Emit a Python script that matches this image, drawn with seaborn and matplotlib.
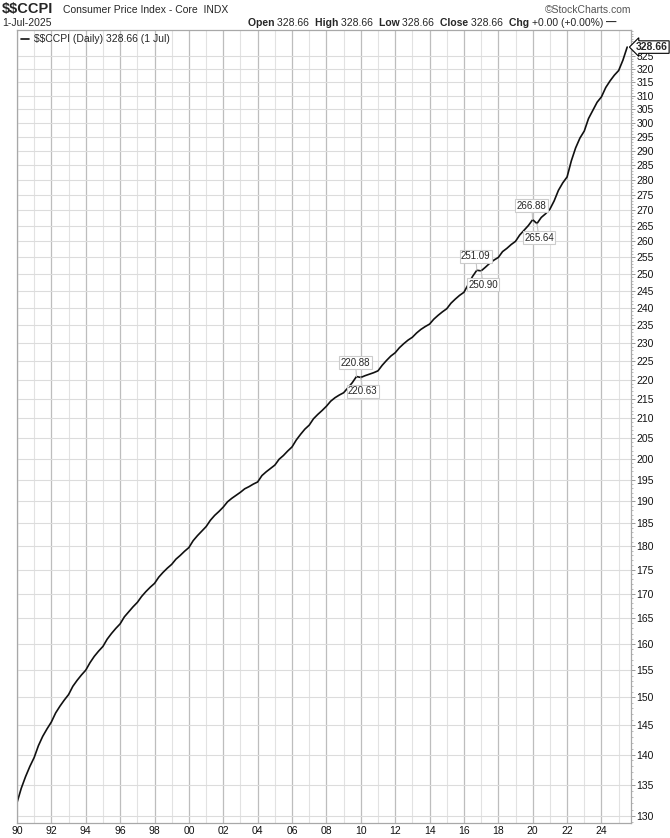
import pandas as pd
import numpy as np
import matplotlib
matplotlib.use('Agg')
import matplotlib.pyplot as plt
import matplotlib.dates as mdates
import matplotlib.ticker as mticker
import seaborn as sns

# quarterly readings (Jan, Apr, Jul, Oct) from Jan 1990
first_quarter = '1990-01-01'
ccpi_quarterly = [
    132.1, 134.4, 136.3, 138.0,   # 1990
    139.5, 141.5, 143.1, 144.4,   # 1991
    145.6, 147.2, 148.4, 149.5,   # 1992
    150.5, 152.0, 153.1, 154.1,   # 1993
    155.0, 156.4, 157.6, 158.6,   # 1994
    159.5, 160.9, 162.0, 163.0,   # 1995
    163.9, 165.3, 166.3, 167.3,   # 1996
    168.2, 169.4, 170.4, 171.3,   # 1997
    172.1, 173.4, 174.4, 175.3,   # 1998
    176.1, 177.2, 178.0, 178.9,   # 1999
    179.7, 181.2, 182.3, 183.3,   # 2000
    184.3, 185.7, 186.8, 187.7,   # 2001
    188.7, 189.9, 190.7, 191.4,   # 2002
    192.1, 192.9, 193.4, 194.0,   # 2003
    194.5, 196.0, 196.9, 197.7,   # 2004
    198.5, 199.9, 200.8, 201.9,   # 2005
    202.9, 204.6, 206.0, 207.3,   # 2006
    208.3, 209.9, 211.0, 212.0,   # 2007
    213.1, 214.4, 215.3, 216.0,   # 2008
    216.6, 217.9, 219.2, 220.88,  # 2009
    220.63, 221.1, 221.5, 221.9,  # 2010
    222.4, 223.9, 225.2, 226.4,   # 2011
    227.3, 228.7, 229.8, 230.8,   # 2012
    231.6, 232.8, 233.8, 234.6,   # 2013
    235.3, 236.7, 237.8, 238.8,   # 2014
    239.7, 241.3, 242.5, 243.6,   # 2015
    244.5, 246.8, 249.2, 251.09,  # 2016
    250.90, 252.0, 253.2, 254.2,  # 2017
    255.0, 256.8, 257.8, 259.0,   # 2018
    260.0, 262.0, 263.5, 265.0,   # 2019
    266.88, 265.64, 267.6, 268.8, # 2020
    270.3, 273.0, 276.5, 279.0,   # 2021
    281.0, 286.5, 291.0, 294.5,   # 2022
    297.0, 301.5, 304.5, 307.5,   # 2023
    309.5, 313.0, 315.5, 317.7,   # 2024
    319.5, 323.5,                 # 2025
]
last_date = '2025-07-01'
last_value = 328.66

# swing high/low labels drawn by the chart
swing_dates = ['2009-10-01', '2010-01-01', '2016-10-01', '2017-01-01', '2020-01-01', '2020-04-01']
swing_values = [220.88, 220.63, 251.09, 250.90, 266.88, 265.64]
swing_above = [True, False, True, False, True, False]

y_ticks = list(range(130, 330, 5))

dates = list(pd.date_range(first_quarter, periods=len(ccpi_quarterly), freq='QS')) + [pd.Timestamp(last_date)]
df = pd.DataFrame({'date': dates, 'CCPI': ccpi_quarterly + [last_value]})

sns.set_theme(style='white')
plt.rcParams['font.family'] = ['Liberation Sans', 'DejaVu Sans']
plt.rcParams['text.parse_math'] = False

fig = plt.figure(figsize=(6.7, 8.38), dpi=100)
ax = fig.add_axes([17 / 670, 1 - 823 / 838, (631 - 17) / 670, (823 - 30) / 838])

sns.lineplot(data=df, x='date', y='CCPI', ax=ax, color='#111111', linewidth=1.2,
             label='$$CCPI (Daily) 328.66 (1 Jul)')

ax.set_yscale('log')
ax.set_ylim(128.9, 335.5)
ax.set_xlim(pd.Timestamp('1990-01-01'), pd.Timestamp('2025-09-20'))

ax.yaxis.set_major_locator(mticker.FixedLocator(y_ticks))
ax.yaxis.set_major_formatter(mticker.FuncFormatter(lambda v, p: f'{v:.0f}'))
ax.yaxis.set_minor_locator(mticker.FixedLocator(list(range(129, 336))))
ax.yaxis.set_minor_formatter(mticker.NullFormatter())
ax.yaxis.tick_right()

ax.xaxis.set_major_locator(mdates.YearLocator(2))
ax.xaxis.set_major_formatter(mdates.DateFormatter('%y'))
ax.xaxis.set_minor_locator(mdates.YearLocator(1))

ax.grid(True, which='major', axis='y', color='#dcdcdc', linewidth=0.8)
ax.grid(True, which='major', axis='x', color='#bdbdbd', linewidth=0.9)
ax.grid(True, which='minor', axis='x', color='#e2e2e2', linewidth=0.8)

ax.tick_params(axis='y', which='major', length=3, width=0.7, color='#9a9a9a',
               labelsize=7.5, pad=1, labelcolor='#111111')
ax.tick_params(axis='y', which='minor', length=1.5, width=0.6, color='#b0b0b0')
ax.tick_params(axis='x', which='major', length=0, labelsize=7.5, pad=2, labelcolor='#111111')
ax.tick_params(axis='x', which='minor', length=0)
ax.set_xlabel('')
ax.set_ylabel('')
for s in ax.spines.values():
    s.set_color('#a8a8a8')
    s.set_linewidth(0.9)

ax.legend(loc='upper left', frameon=False, fontsize=7.5, handlelength=0.8,
          handletextpad=0.4, borderaxespad=0.2, borderpad=0.2)

# swing labels with light leader lines
for d, v, up in zip(swing_dates, swing_values, swing_above):
    ax.annotate(f'{v:.2f}', xy=(pd.Timestamp(d), v), xytext=(-1 if up else 2, 14 if up else -14),
                textcoords='offset pixels', ha='center', va='center', fontsize=7,
                bbox=dict(boxstyle='square,pad=0.15', fc='white', ec='#cccccc', lw=0.8),
                arrowprops=dict(arrowstyle='-', color='#c4c4c4', lw=0.8, shrinkA=0, shrinkB=0))

# last value tag on the price axis
ax.annotate(f'{last_value:.2f}', xy=(1.0, last_value), xycoords=('axes fraction', 'data'),
            xytext=(5, 0), textcoords='offset pixels', ha='left', va='center',
            fontsize=7.5, fontweight='bold', annotation_clip=False,
            bbox=dict(boxstyle='larrow,pad=0.12', fc='white', ec='black', lw=0.8))

# header lines
fig.text(2 / 670, 1 - 13 / 838, '$$CCPI', fontsize=10.5, fontweight='bold', va='baseline')
fig.text(63 / 670, 1 - 13 / 838, 'Consumer Price Index - Core  INDX', fontsize=7.5, va='baseline')
fig.text(631 / 670, 1 - 13 / 838, '\u00a9StockCharts.com', fontsize=7.5, ha='right', va='baseline',
         color='#555555')
fig.text(2 / 670, 1 - 26 / 838, '1-Jul-2025', fontsize=7.5, va='baseline')

# quote line: bold labels followed by plain values, chained left to right
parts = [('Open ', True), ('328.66  ', False), ('High ', True), ('328.66  ', False),
         ('Low ', True), ('328.66  ', False), ('Close ', True), ('328.66  ', False),
         ('Chg ', True), ('+0.00 (+0.00%) ', False), ('\u2014', True)]
cur = fig.text(248 / 670, 1 - 26 / 838, parts[0][0], fontsize=7.5, fontweight='bold', va='baseline')
for txt, bold in parts[1:]:
    cur = ax.annotate(txt, xy=(1, 0), xycoords=cur, va='bottom', ha='left', fontsize=7.5,
                      fontweight='bold' if bold else 'normal', annotation_clip=False)

fig.savefig('out.png', dpi=100)
